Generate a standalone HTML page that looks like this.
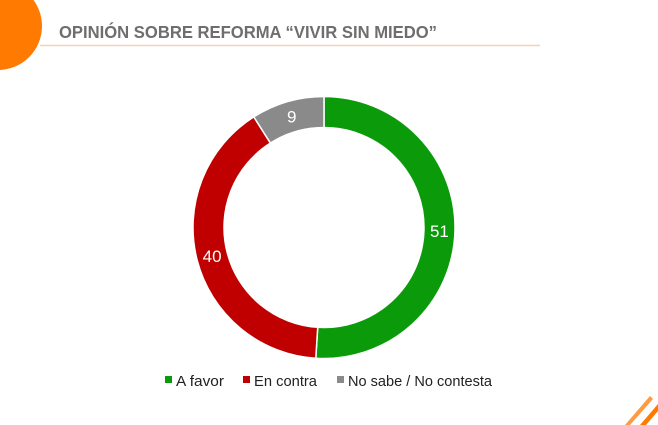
<!DOCTYPE html>
<html><head><meta charset="utf-8"><style>
body{margin:0;width:658px;height:425px;background:#fff;overflow:hidden;font-family:"Liberation Sans",sans-serif;}
svg{display:block}
</style></head><body>
<svg width="658" height="425">
<circle cx="-2" cy="26" r="44" fill="#ff7a00"/>
<text x="59" y="38" font-size="17.5" font-weight="bold" fill="#6e6e70" textLength="378" lengthAdjust="spacingAndGlyphs">OPINIÓN SOBRE REFORMA “VIVIR SIN MIEDO”</text>
<line x1="40" y1="45.5" x2="540" y2="45.5" stroke="#f2d3b5" stroke-width="1.5"/>
<polygon points="640,425 658,404 658,411 646,425" fill="#ff7a00"/>
<polygon points="625,425 650,396 653,399 630,425" fill="#ff9a40"/>
<g id="donut"></g>
<g id="legend"></g>
</svg>
<script>
const categories=["A favor","En contra","No sabe / No contesta"];
const values=[51,40,9];
const colors=["#0a9a0a","#c00000","#8a8a8a"];
const cx=324,cy=227.5,R=131,r=100;
const ns="http://www.w3.org/2000/svg";
const g=document.getElementById("donut");
const total=values.reduce((a,b)=>a+b,0);
let a0=-Math.PI/2;
function pt(rad,a){return [cx+rad*Math.cos(a),cy+rad*Math.sin(a)];}
values.forEach((v,i)=>{
  const a1=a0+v/total*2*Math.PI;
  const large=(a1-a0)>Math.PI?1:0;
  const [x1,y1]=pt(R,a0),[x2,y2]=pt(R,a1),[x3,y3]=pt(r,a1),[x4,y4]=pt(r,a0);
  const p=document.createElementNS(ns,"path");
  p.setAttribute("d",`M${x1},${y1}A${R},${R} 0 ${large} 1 ${x2},${y2}L${x3},${y3}A${r},${r} 0 ${large} 0 ${x4},${y4}Z`);
  p.setAttribute("fill",colors[i]);p.setAttribute("stroke","#fff");p.setAttribute("stroke-width","1.5");
  
  
  g.appendChild(p);
  const am=(a0+a1)/2;const [lx,ly]=pt((R+r)/2,am);
  const t=document.createElementNS(ns,"text");
  t.setAttribute("x",lx);t.setAttribute("y",ly+6);t.setAttribute("text-anchor","middle");
  t.setAttribute("font-size","17");t.setAttribute("fill","#fff");t.textContent=v;
  
  
  g.appendChild(t);
  a0=a1;
});
const lg=document.getElementById("legend");
const lx=[165,243,337];
const lw=[48,63,144];
categories.forEach((c,i)=>{
  const s=document.createElementNS(ns,"rect");
  s.setAttribute("x",lx[i]);s.setAttribute("y",376);s.setAttribute("width",7);s.setAttribute("height",7);s.setAttribute("fill",colors[i]);
  
  
  lg.appendChild(s);
  const t=document.createElementNS(ns,"text");
  t.setAttribute("x",lx[i]+11);t.setAttribute("y",386);t.setAttribute("font-size","14.5");t.setAttribute("fill","#222");
  t.setAttribute("textLength",lw[i]);t.setAttribute("lengthAdjust","spacingAndGlyphs");t.textContent=c;
  
  
  lg.appendChild(t);
});
</script>
</body></html>
